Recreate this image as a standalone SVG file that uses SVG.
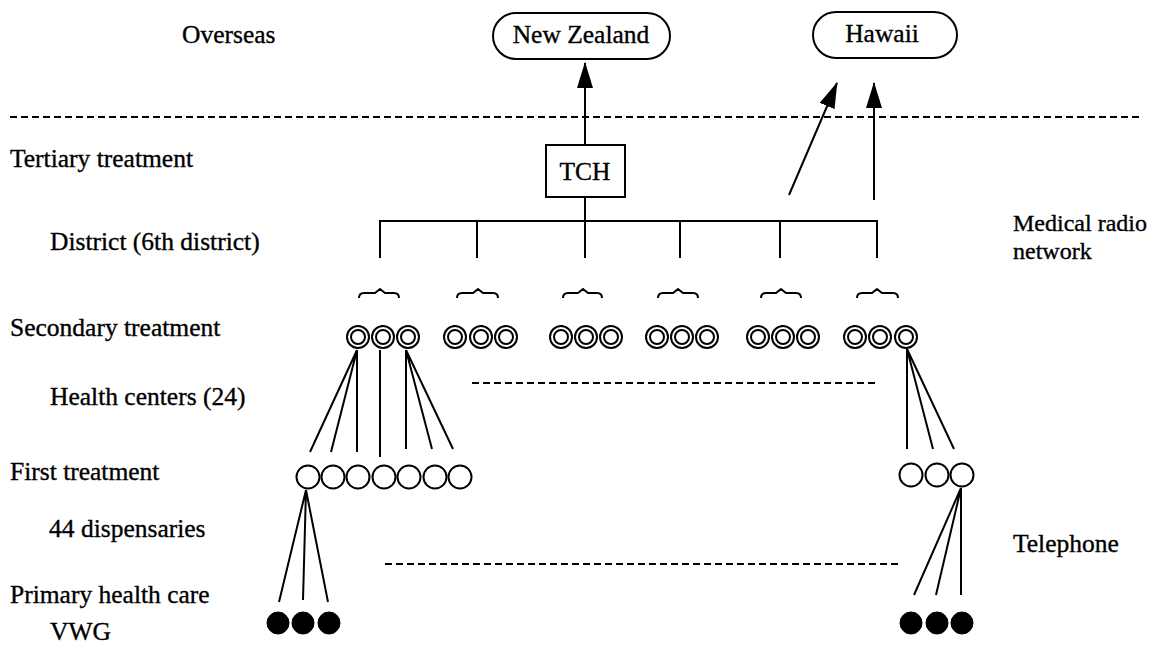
<svg xmlns="http://www.w3.org/2000/svg" width="1156" height="654" viewBox="0 0 1156 654">
<style>
text{font-family:"Liberation Serif","Times New Roman",serif;font-size:25.5px;fill:#000;stroke:#000;stroke-width:0.35}
.sm{font-size:24px}
.ln{stroke:#000;stroke-width:2;fill:none}
.dash{stroke:#000;stroke-width:2;stroke-dasharray:7 4;fill:none}
.dc{fill:#fff;stroke:#000;stroke-width:2}
.sc{fill:#fff;stroke:#000;stroke-width:2}
.fc{fill:#000;stroke:#000;stroke-width:1}
.box{fill:#fff;stroke:#000;stroke-width:2}
</style>
<defs>
<marker id="ah" markerUnits="userSpaceOnUse" markerWidth="26" markerHeight="16" refX="25" refY="8" viewBox="0 0 26 16" orient="auto">
<path d="M0,0 L26,8 L0,16 Z" fill="#000"/>
</marker>
<g id="dbl">
<circle r="11" class="dc"/><circle r="7" class="dc"/>
</g>
</defs>

<g id="labels">
<text x="182" y="43">Overseas</text>
<text x="10" y="167">Tertiary treatment</text>
<text x="50" y="250">District (6th district)</text>
<text x="10" y="336">Secondary treatment</text>
<text x="50" y="405">Health centers (24)</text>
<text x="10" y="480">First treatment</text>
<text x="49" y="537">44 dispensaries</text>
<text x="10" y="603">Primary health care</text>
<text x="50" y="640">VWG</text>
<text class="sm" x="1013" y="231">Medical radio</text>
<text class="sm" x="1013" y="259">network</text>
<text x="1013" y="552">Telephone</text>
</g>

<g id="separators">
<line x1="10" y1="117" x2="1142" y2="117" class="dash"/>
<line x1="472" y1="383" x2="876" y2="383" class="dash"/>
<line x1="385" y1="564" x2="902" y2="564" class="dash"/>
</g>

<g id="newzealand">
<rect x="493" y="13" width="177" height="46" rx="23" class="box"/>
<text x="581" y="43" text-anchor="middle">New Zealand</text>
</g>
<g id="hawaii">
<rect x="813" y="12" width="144" height="46" rx="23" class="box"/>
<text x="882" y="42" text-anchor="middle">Hawaii</text>
</g>
<g id="tch">
<rect x="546" y="145" width="79" height="52" class="box"/>
<text x="585" y="180" text-anchor="middle">TCH</text>
</g>

<g id="connectors">
<line x1="585" y1="145" x2="585" y2="63" class="ln" marker-end="url(#ah)"/>
<line x1="789" y1="195" x2="837" y2="83" class="ln" marker-end="url(#ah)"/>
<line x1="874" y1="200" x2="874" y2="83" class="ln" marker-end="url(#ah)"/>
<line x1="585" y1="197" x2="585" y2="258" class="ln"/>
<path d="M380,258 V221 H877 V258" class="ln"/>
<line x1="477" y1="221" x2="477" y2="258" class="ln"/>
<line x1="680" y1="221" x2="680" y2="258" class="ln"/>
<line x1="780" y1="221" x2="780" y2="258" class="ln"/>
<path d="M357,350 L310,452 M357,350 L331,452 M357,350 L357,452 M380,350 L380,457 M406,350 L406,449 M406,350 L432,449 M406,350 L453,449" class="ln"/>
<path d="M907,349 L907,449 M907,349 L933,449 M907,349 L954,449" class="ln"/>
<path d="M306,490 L279,602 M306,490 L303,600 M306,490 L328,602" class="ln"/>
<path d="M961,488 L914,595 M961,488 L936,595 M961,488 L961,595" class="ln"/>
</g>

<g id="braces">
<path d="M359,298 q0,-5 5,-5 h11 l5,-4 l5,4 h9 q5,0 5,5" class="ln"/>
<path d="M457,298 q0,-5 5,-5 h11 l5,-4 l5,4 h10 q5,0 5,5" class="ln"/>
<path d="M563,298 q0,-5 5,-5 h10 l5,-4 l5,4 h9 q5,0 5,5" class="ln"/>
<path d="M658,298 q0,-5 5,-5 h10 l5,-4 l5,4 h10 q5,0 5,5" class="ln"/>
<path d="M761,298 q0,-5 5,-5 h10 l5,-4 l5,4 h10 q5,0 5,5" class="ln"/>
<path d="M857,298 q0,-5 5,-5 h10 l5,-4 l5,4 h11 q5,0 5,5" class="ln"/>
</g>

<g id="health-centers">
<use href="#dbl" x="358" y="337"/><use href="#dbl" x="383" y="337"/><use href="#dbl" x="408" y="337"/>
<use href="#dbl" x="455" y="337"/><use href="#dbl" x="481" y="337"/><use href="#dbl" x="506" y="337"/>
<use href="#dbl" x="561" y="337"/><use href="#dbl" x="586" y="337"/><use href="#dbl" x="611" y="337"/>
<use href="#dbl" x="657" y="337"/><use href="#dbl" x="682" y="337"/><use href="#dbl" x="707" y="337"/>
<use href="#dbl" x="758" y="337"/><use href="#dbl" x="783" y="337"/><use href="#dbl" x="808" y="337"/>
<use href="#dbl" x="855" y="337"/><use href="#dbl" x="880" y="337"/><use href="#dbl" x="906" y="337"/>
</g>

<g id="dispensaries">
<circle cx="308" cy="477" r="11.5" class="sc"/>
<circle cx="333" cy="477" r="11.5" class="sc"/>
<circle cx="358" cy="477" r="11.5" class="sc"/>
<circle cx="384" cy="477" r="11.5" class="sc"/>
<circle cx="409" cy="477" r="11.5" class="sc"/>
<circle cx="435" cy="477" r="11.5" class="sc"/>
<circle cx="460" cy="477" r="11.5" class="sc"/>
<circle cx="911" cy="475" r="11.5" class="sc"/>
<circle cx="937" cy="475" r="11.5" class="sc"/>
<circle cx="962" cy="475" r="11.5" class="sc"/>
</g>

<g id="vwg">
<circle cx="278" cy="623" r="11" class="fc"/>
<circle cx="303" cy="623" r="11" class="fc"/>
<circle cx="329" cy="623" r="11" class="fc"/>
<circle cx="911" cy="623" r="11" class="fc"/>
<circle cx="937" cy="623" r="11" class="fc"/>
<circle cx="962" cy="623" r="11" class="fc"/>
</g>
</svg>
